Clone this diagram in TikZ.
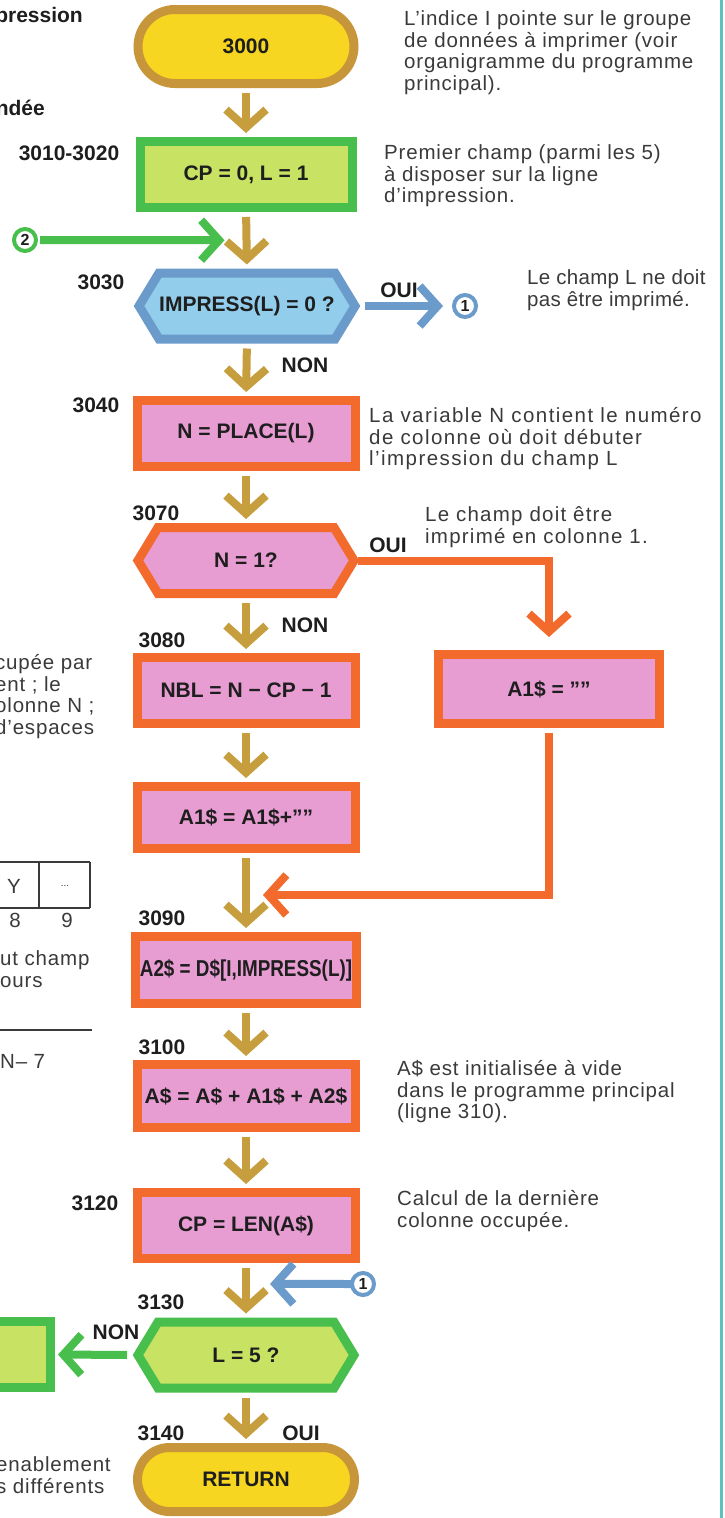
\documentclass[tikz,border=0pt]{standalone}
\usepackage{fontspec}
\usepackage{graphicx}
\setmainfont{Liberation Sans}
\usetikzlibrary{arrows.meta,calc,shapes.misc}

\definecolor{flowgold}{HTML}{C79E3E}
\definecolor{pillrim}{HTML}{C8963A}
\definecolor{pillfill}{HTML}{F6D620}
\definecolor{grnrim}{HTML}{48BE4C}
\definecolor{grnfill}{HTML}{C8E264}
\definecolor{bluerim}{HTML}{6A9BCB}
\definecolor{bluefill}{HTML}{92CDEB}
\definecolor{orgrim}{HTML}{F26B2C}
\definecolor{pinkfill}{HTML}{E79CD2}
\definecolor{inktext}{HTML}{1E1E1E}
\definecolor{notetext}{HTML}{3A3A3A}
\definecolor{edgeteal}{HTML}{5EC2BA}

\newcommand{\labfont}{\fontsize{21}{24}\selectfont\bfseries}
\newcommand{\notefont}{\fontsize{20.5}{21.5}\selectfont\addfontfeature{LetterSpace=4}}

\pgfdeclarelayer{shapes}
\pgfsetlayers{shapes,main}

% hexagonal decision outline drawn behind a text slot
\newcommand{\hexoutline}[3]{%
  \begin{pgfonlayer}{shapes}
  \draw[line width=9pt, line join=miter, draw=#2, fill=#3]
    (#1.west) -- ([xshift=20pt]#1.north west) -- ([xshift=-20pt]#1.north east)
    -- (#1.east) -- ([xshift=-20pt]#1.south east) -- ([xshift=20pt]#1.south west) -- cycle;
  \end{pgfonlayer}}

\tikzset{
  procbox/.style={rectangle, draw=orgrim, fill=pinkfill, line width=9pt,
    minimum width=218pt, minimum height=66pt, inner sep=0pt, outer sep=0pt,
    font=\labfont, text=inktext},
  greenbox/.style={procbox, draw=grnrim, fill=grnfill},
  pill/.style={rounded rectangle, draw=pillrim, fill=pillfill, line width=9pt,
    minimum width=216pt, minimum height=74pt, inner sep=0pt, outer sep=0pt,
    font=\labfont, text=inktext},
  hexslot/.style={rectangle, minimum width=216pt, minimum height=66pt,
    inner sep=0pt, outer sep=0pt, font=\labfont, text=inktext},
  conn/.style={circle, draw=#1, line width=4pt, fill=white, minimum size=22pt,
    inner sep=0pt, outer sep=0pt, font=\fontsize{16}{16}\selectfont\bfseries, text=inktext},
  lab/.style={font=\labfont, text=inktext, inner sep=0pt},
  note/.style={font=\notefont, text=notetext, align=left, anchor=north west, inner sep=0pt},
  tip/.style={-{Straight Barb[length=18pt,width=40pt]}},
  flow/.style={draw=flowgold, line width=8pt, tip, shorten <=9.5pt, shorten >=8.5pt},
  greenflow/.style={draw=grnrim, line width=8pt, tip},
  blueflow/.style={draw=bluerim, line width=8pt, tip},
  orangeflow/.style={draw=orgrim, line width=8pt, tip},
  rule/.style={draw=notetext, line width=1.2pt}
}

\begin{document}
\begin{tikzpicture}[x=1pt,y=-1pt]
\useasboundingbox (0,0) rectangle (724,1518);
\clip (0,0) rectangle (724,1518);

% ---------- main column ----------
\node[pill] (start) at (246,46.5) {3000};
\node[greenbox, minimum width=212pt] (init) at (246,174.5) {CP = 0, L = 1};
\node[hexslot] (test) at (247,306) {IMPRESS(L) = 0 ?};
\hexoutline{test}{bluerim}{bluefill}
\node[procbox] (place) at (246,433.5) {N = PLACE(L)};
\node[hexslot] (first) at (246,560.5) {N = 1?};
\hexoutline{first}{orgrim}{pinkfill}
\node[procbox] (nbl) at (246,690.5) {NBL = N − CP − 1};
\node[procbox, minimum height=62pt] (pad) at (246,817.5) {A1\$ = A1\$+””};
\node[procbox, minimum width=221pt, minimum height=67pt] (fetch) at (246,970)
  {\scalebox{0.82}[1]{\fontsize{23}{23}\selectfont A2\$ = D\$[I,IMPRESS(L)]}};
\node[procbox, minimum height=63pt] (join) at (246,1096) {A\$ = A\$ + A1\$ + A2\$};
\node[procbox] (len) at (246,1225.5) {CP = LEN(A\$)};
\node[hexslot] (last) at (246,1355) {L = 5 ?};
\hexoutline{last}{grnrim}{grnfill}
\node[pill, minimum width=217pt, minimum height=64pt] (ret) at (246,1479.5) {RETURN};

% side branch and loop-back box
\node[procbox, minimum width=221pt, minimum height=69pt] (blank) at (549,689) {A1\$ = ””};
\node[greenbox, minimum width=91pt] (loop) at (5,1354.5) {};

% ---------- connectors (circles) ----------
\node[conn=grnrim] (c2) at (25,240) {2};
\node[conn=bluerim] (c1) at (465,306) {1};
\node[conn=bluerim] (c1b) at (363,1284) {1};

% ---------- flow arrows ----------
\draw[flow] (start.south) -- (init.north);
\draw[flow] (init.south) -- (test.north);
\draw[flow] (test.south) -- (place.north);
\draw[flow] (place.south) -- (first.north);
\draw[flow] (first.south) -- (nbl.north);
\draw[flow] (nbl.south) -- (pad.north);
\draw[flow] (pad.south) -- (fetch.north);
\draw[flow] (fetch.south) -- (join.north);
\draw[flow] (join.south) -- (len.north);
\draw[flow] (len.south) -- (last.north);
\draw[flow] (last.south) -- (ret.north);

\coordinate (m2) at ($(init.south)!0.5!(test.north)$);
\coordinate (m7) at ($(pad.south)!0.528!(fetch.north)$);
\coordinate (m11) at ($(len.south)!0.40!(last.north)$);

\draw[greenflow, shorten <=4pt, shorten >=22pt] (c2) -- (m2);
\draw[blueflow, shorten <=10pt, shorten >=11pt] (test.east) -- (c1);
\draw[orangeflow, shorten <=4pt, shorten >=17.5pt] (first.east) -| (blank.north);
\draw[orangeflow, shorten <=9pt, shorten >=17pt] (blank.south) |- (m7);
\draw[blueflow, shorten <=0pt, shorten >=24pt] (c1b) -- (m11);
\draw[greenflow, shorten <=11pt, shorten >=7.5pt] (last.west) -- (loop.east);

% ---------- line numbers and branch labels ----------
\node[lab] (n3010) at (69,153) {3010-3020};
\node[lab] (n3030) at (101,282) {3030};
\node[lab] (n3040) at (96,405) {3040};
\node[lab] (n3070) at (156,513) {3070};
\node[lab] (n3080) at (162,640) {3080};
\node[lab] (n3090) at (162,918) {3090};
\node[lab] (n3100) at (162,1047) {3100};
\node[lab] (n3120) at (95,1203) {3120};
\node[lab] (n3130) at (161,1302) {3130};
\node[lab] (n3140) at (161,1433) {3140};
\node[lab] (non1) at (305,365) {NON};
\node[lab] (non2) at (305,625) {NON};
\node[lab] (non3) at (116,1332) {NON};
\node[lab] (oui1) at (399,290) {OUI};
\node[lab] (oui2) at (388,545) {OUI};
\node[lab] (oui3) at (301,1433) {OUI};

% ---------- comments on the right ----------
\node[note] (t1) at (404,9.3) {\rule{0pt}{16pt}L'indice I pointe sur le groupe\\de données à imprimer (voir\\organigramme du programme\\principal).};
\node[note] (t2) at (384,143.3) {\rule{0pt}{16pt}Premier champ (parmi les 5)\\à disposer sur la ligne\\d'impression.};
\node[note, font=\notefont\addfontfeature{LetterSpace=1.5}] (t3) at (527,268.3) {\rule{0pt}{16pt}Le champ L ne doit\\pas être imprimé.};
\node[note, font=\notefont\addfontfeature{LetterSpace=7}] (t4) at (369,406.3) {\rule{0pt}{16pt}La variable N contient le numéro\\de colonne où doit débuter\\l'impression du champ L};
\node[note, font=\notefont\addfontfeature{LetterSpace=6}] (t5) at (425,505.3) {\rule{0pt}{16pt}Le champ doit être\\imprimé en colonne 1.};
\node[note] (t6) at (397,1059.3) {\rule{0pt}{16pt}A\$ est initialisée à vide\\dans le programme principal\\(ligne 310).};
\node[note] (t7) at (397,1189.3) {\rule{0pt}{16pt}Calcul de la dernière\\colonne occupée.};

% ---------- neighbouring column, left edge ----------
\node[lab, anchor=east] (h1) at (83,17) {pression};
\node[lab, anchor=east] (h2) at (45,108) {ndée};
\node[note] (t8) at (-5,653.3) {\rule{0pt}{16pt}cupée par\\ent ; le\\olonne N ;\\d'espaces};
\draw[rule] (-5,862) -- (90,862);
\draw[rule] (-5,908) -- (90,908);
\draw[rule] (39,862) -- (39,908);
\draw[rule] (90,862) -- (90,908);
\node[font=\notefont, text=notetext] (cy) at (14,886) {Y};
\node[font=\fontsize{10}{10}\selectfont, text=notetext] (cdots) at (65,886) {...};
\node[font=\notefont, text=notetext] (k8) at (15,920) {8};
\node[font=\notefont, text=notetext] (k9) at (67,920) {9};
\node[note] (t9) at (0,949.3) {\rule{0pt}{16pt}ut champ\\ours};
\draw[rule] (-5,1030) -- (92,1030);
\node[note] (t10) at (0,1052.3) {\rule{0pt}{16pt}N– 7};
\node[note] (t11) at (-4,1455.3) {\rule{0pt}{16pt}enablement\\s différents};

% page edge rule
\draw[edgeteal, line width=3pt] (721,0) -- (721,1518);
\end{tikzpicture}
\end{document}
